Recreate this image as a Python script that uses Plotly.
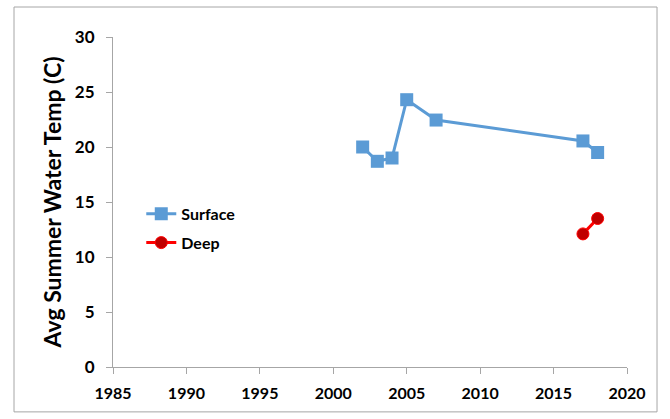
import plotly.graph_objects as go

surface_years = [2002, 2003, 2004, 2005, 2007, 2017, 2018]
surface_temp = [20.0, 18.7, 19.0, 24.3, 22.45, 20.55, 19.5]
deep_years = [2017, 2018]
deep_temp = [12.1, 13.5]

x_ticks = [1985, 1990, 1995, 2000, 2005, 2010, 2015, 2020]
y_ticks = [0, 5, 10, 15, 20, 25, 30]

font_family = "Lato, 'Open Sans', sans-serif"

fig = go.Figure()
fig.add_trace(go.Scatter(
    x=surface_years, y=surface_temp, name="Surface", mode="lines+markers",
    legendgroup="s",
    line=dict(color="#5B9BD5", width=3),
    marker=dict(symbol="square", size=13, color="#5B9BD5"),
))
fig.add_trace(go.Scatter(
    x=deep_years, y=deep_temp, name="Deep", mode="lines+markers",
    legendgroup="d",
    line=dict(color="#FF0000", width=3),
    marker=dict(symbol="circle", size=12, color="#C00000", line=dict(color="#FF0000", width=1)),
))

axis_common = dict(
    showgrid=False, zeroline=False, showline=True, linecolor="#A6A6A6", linewidth=1,
    ticks="outside", tickcolor="#A6A6A6", ticklen=6,
)
tick_font = dict(family=font_family, size=16, color="black", weight="bold")

fig.update_layout(
    width=670, height=419,
    margin=dict(l=113, r=43, t=37, b=52),
    paper_bgcolor="white", plot_bgcolor="white",
    xaxis=dict(range=[1985, 2020], tickvals=x_ticks, tickfont=tick_font,
               ticklabelstandoff=6, **axis_common),
    yaxis=dict(range=[0, 30], tickvals=y_ticks, tickfont=dict(tick_font, size=17),
               ticklabelstandoff=8,
               title=dict(text="Avg Summer Water Temp (C)", standoff=6,
                          font=dict(family=font_family, size=23, color="black", weight="bold")),
               **axis_common),
    legend=dict(x=0.055, y=0.42, xanchor="left", yanchor="middle",
                bgcolor="rgba(0,0,0,0)", tracegroupgap=5,
                font=dict(family=font_family, size=16, color="black", weight="bold")),
    showlegend=True,
    shapes=[dict(type="rect", xref="paper", yref="paper",
                 x0=-0.1926, x1=1.0584, y0=-0.136, y1=1.0909,
                 line=dict(color="#A6A6A6", width=1), fillcolor="rgba(0,0,0,0)", layer="below")],
)

fig.write_html("out.html", config={"displayModeBar": False},
               post_script="document.body.style.margin='0';document.body.style.overflow='hidden';")
